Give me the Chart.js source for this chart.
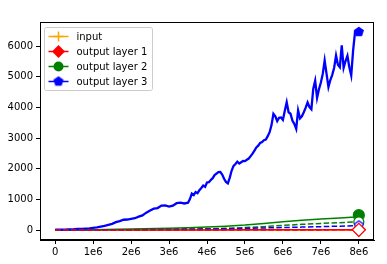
<!DOCTYPE html>
<html>
<head>
<meta charset="utf-8">
<script src="https://cdn.jsdelivr.net/npm/chart.js@4"></script>
<style>
  body { margin: 0; background: #fff; }
  #wrap { width: 387px; height: 264px; }
</style>
</head>
<body>
<div id="wrap"><canvas id="chart" width="387" height="264"></canvas></div>
<script>
// axis ticks
const xTicks = [0, 1e6, 2e6, 3e6, 4e6, 5e6, 6e6, 7e6, 8e6];
const xTickLabels = ['0', '1e6', '2e6', '3e6', '4e6', '5e6', '6e6', '7e6', '8e6'];
const yTicks = [0, 1000, 2000, 3000, 4000, 5000, 6000];
const yTickLabels = ['0', '1000', '2000', '3000', '4000', '5000', '6000'];
const seriesNames = ['input', 'output layer 1', 'output layer 2', 'output layer 3'];

// x positions in millions
const flatT = [0, 1, 2, 3, 4, 5, 6, 7, 8];
const inputY = [0, 0, 0, 0, 0, 0, 0, 0, 0];
const layer1Y = [0, 1, 2, 3, 4, 5, 6, 8, 10];
const layer1DashY = [0, 0, 1, 1, 2, 2, 3, 4, 5];

const growT = [0, 1, 2, 3, 3.5, 4, 4.5, 5, 5.5, 6, 6.5, 7, 7.5, 7.9, 8];
const layer2Y = [0, 12, 30, 55, 75, 100, 125, 160, 210, 270, 320, 360, 395, 425, 485];
const layer2DashY = [0, 5, 12, 25, 32, 40, 55, 80, 110, 150, 185, 215, 240, 262, 265];
const layer3DashY = [0, 3, 8, 18, 24, 30, 42, 55, 68, 80, 95, 110, 125, 140, 150];

const layer3T = [0, 0.1, 0.2, 0.3, 0.4, 0.5, 0.6, 0.7, 0.8, 0.9, 1, 1.1, 1.2, 1.3, 1.4, 1.5, 1.6, 1.7, 1.8, 1.9,
  2, 2.1, 2.2, 2.3, 2.4, 2.5, 2.6, 2.7, 2.8, 2.9, 3, 3.1, 3.2, 3.3, 3.4, 3.5,
  3.55, 3.6, 3.65, 3.7, 3.75, 3.8, 3.85, 3.9, 3.95, 4, 4.05, 4.1, 4.15, 4.2, 4.25, 4.3, 4.35, 4.4, 4.45,
  4.5, 4.55, 4.6, 4.65, 4.7, 4.75, 4.8, 4.85, 4.9, 4.95, 5, 5.05, 5.1, 5.15, 5.2, 5.25, 5.3, 5.35, 5.4, 5.45,
  5.5, 5.55, 5.6, 5.65, 5.7, 5.75, 5.8, 5.85, 5.9, 5.95, 6, 6.05, 6.1, 6.15, 6.2, 6.25, 6.3, 6.35, 6.4, 6.45,
  6.5, 6.55, 6.6, 6.65, 6.7, 6.75, 6.8, 6.85, 6.9, 6.95, 7, 7.05, 7.1, 7.15, 7.2, 7.25, 7.3, 7.35, 7.4, 7.45,
  7.5, 7.55, 7.6, 7.65, 7.7, 7.75, 7.8, 7.85, 7.9, 7.95, 8];
const layer3Y = [10, 12, 15, 17, 22, 25, 32, 38, 47, 55, 72, 85, 112, 138, 168, 200, 255, 292, 335, 342,
  362, 383, 435, 478, 565, 635, 695, 715, 795, 805, 765, 795, 875, 895, 865, 890,
  1010, 1185, 1140, 1240, 1200, 1300, 1370, 1450, 1410, 1550, 1560, 1630, 1690, 1790, 1840, 1890, 1895, 1810, 1670,
  1570, 1520, 1710, 1940, 2090, 2150, 2230, 2170, 2210, 2250, 2245, 2290, 2330, 2410, 2490, 2590, 2690, 2750, 2840, 2870,
  2930, 2950, 3060, 3190, 3420, 3790, 3710, 3550, 3660, 3670, 3590, 3890, 4170, 3840, 3790, 3570, 3460, 3300, 3900, 3640,
  3710, 3840, 3990, 4160, 4010, 3940, 4610, 4870, 4310, 4590, 4810, 5090, 5530, 5090, 4660, 4890, 5060, 5290, 5690, 5390,
  5310, 6020, 5290, 5510, 5680, 5310, 5040, 5860, 6450, 6470, 6460];

function pts(ts, ys) {
  return ts.map((t, i) => ({ x: t * 1e6, y: ys[i] }));
}

// pentagon marker as a small canvas
function pentagon(r, fill, stroke) {
  const c = document.createElement('canvas');
  const s = Math.ceil(2 * r + 4);
  c.width = s; c.height = s;
  const g = c.getContext('2d');
  g.beginPath();
  for (let k = 0; k < 5; k++) {
    const a = -Math.PI / 2 + k * 2 * Math.PI / 5;
    const px = s / 2 + r * Math.cos(a), py = s / 2 + r * Math.sin(a);
    k ? g.lineTo(px, py) : g.moveTo(px, py);
  }
  g.closePath();
  g.fillStyle = fill; g.fill();
  g.lineWidth = 1.2; g.strokeStyle = stroke; g.stroke();
  return c;
}
const pentFull = pentagon(4.6, '#0000ff', '#0000ff');
const pentOpen = pentagon(4.6, '#ffffff', '#0000ff');

const lastOnly = r => ctx => ctx.dataIndex === ctx.dataset.data.length - 1 ? r : 0;
const dash = [5.5, 2.4];

const datasets = [
  { label: seriesNames[0], data: pts(flatT, inputY), borderColor: '#ffa500', pointStyle: 'cross',
    pointRadius: lastOnly(5), pointBorderColor: '#ffa500', pointBorderWidth: 1.5, order: 8, legend: true },
  { label: seriesNames[1], data: pts(flatT, layer1Y), borderColor: '#ff0000', pointStyle: 'rectRot',
    pointRadius: lastOnly(6.5), pointBackgroundColor: '#ff0000', pointBorderColor: '#ff0000', order: 7, legend: true },
  { label: seriesNames[2], data: pts(growT, layer2Y), borderColor: '#008000', pointStyle: 'circle',
    pointRadius: lastOnly(5.5), pointBackgroundColor: '#008000', pointBorderColor: '#008000', order: 6, legend: true },
  { label: seriesNames[3], data: pts(layer3T, layer3Y), borderColor: '#0000ff', pointStyle: pentFull,
    pointRadius: lastOnly(5), order: 5, legend: true },
  { label: '', data: pts(growT, layer2DashY), borderColor: '#008000', borderDash: dash, pointStyle: 'circle',
    pointRadius: lastOnly(5), pointBackgroundColor: '#ffffff', pointBorderColor: '#008000', order: 4 },
  { label: '', data: pts(growT, layer3DashY), borderColor: '#0000ff', borderDash: dash, pointStyle: pentOpen,
    pointRadius: lastOnly(5), order: 3 },
  { label: '', data: pts(flatT, layer1DashY), borderColor: '#ff0000', borderDash: dash, pointStyle: 'rectRot',
    pointRadius: lastOnly(6.5), pointBackgroundColor: '#ffffff', pointBorderColor: '#ff0000', order: 2 }
];
datasets.forEach(d => { d.borderWidth = 1.5; if (d.pointBorderWidth == null) d.pointBorderWidth = 1.2; });
datasets[3].borderWidth = 2.3;

// top/right spines + matplotlib style legend
const framePlugin = {
  id: 'frame',
  afterDraw(chart) {
    const { ctx, chartArea: a } = chart;
    ctx.save();
    ctx.strokeStyle = '#000';
    ctx.lineWidth = 1;
    ctx.strokeRect(Math.round(a.left) + 0.5, Math.round(a.top) + 0.5,
      Math.round(a.right - a.left) - 1, Math.round(a.bottom - a.top) - 1);

    // legend box
    const bx = a.left + 4.5, by = a.top + 5.5, bw = 108, bh = 63;
    ctx.beginPath();
    ctx.roundRect(bx, by, bw, bh, 2);
    ctx.fillStyle = 'rgba(255,255,255,0.8)';
    ctx.fill();
    ctx.strokeStyle = '#cccccc';
    ctx.stroke();

    ctx.font = '10px "DejaVu Sans"';
    ctx.textBaseline = 'middle';
    const rows = chart.data.datasets.filter(d => d.legend);
    rows.forEach((d, i) => {
      const y = by + 9 + i * 15;
      const x0 = bx + 4, x1 = bx + 24, mx = bx + 14;
      ctx.strokeStyle = d.borderColor;
      ctx.lineWidth = 1.5;
      ctx.beginPath(); ctx.moveTo(x0, y); ctx.lineTo(x1, y); ctx.stroke();
      const st = d.pointStyle;
      ctx.fillStyle = d.borderColor;
      if (st === 'cross') {
        ctx.beginPath();
        ctx.moveTo(mx - 5, y); ctx.lineTo(mx + 5, y);
        ctx.moveTo(mx, y - 5); ctx.lineTo(mx, y + 5);
        ctx.stroke();
      } else if (st === 'rectRot') {
        ctx.beginPath();
        ctx.moveTo(mx - 6.5, y); ctx.lineTo(mx, y - 6.5); ctx.lineTo(mx + 6.5, y); ctx.lineTo(mx, y + 6.5);
        ctx.closePath(); ctx.fill();
      } else if (st === 'circle') {
        ctx.beginPath(); ctx.arc(mx, y, 5, 0, 2 * Math.PI); ctx.fill();
      } else if (st instanceof HTMLCanvasElement) {
        ctx.drawImage(st, mx - st.width / 2, y - st.height / 2);
      }
      ctx.fillStyle = '#000';
      ctx.fillText(d.label, bx + 32, y + 0.5);
    });
    ctx.restore();
  }
};

const tickFont = { family: 'DejaVu Sans', size: 10 };

new Chart(document.getElementById('chart'), {
  type: 'line',
  data: { datasets: datasets },
  options: {
    responsive: false,
    animation: false,
    events: [],
    layout: { padding: { left: 0, top: 22, right: 13, bottom: 0 } },
    plugins: { legend: { display: false }, tooltip: { enabled: false } },
    elements: { line: { tension: 0 } },
    scales: {
      x: {
        type: 'linear',
        min: -400000,
        max: 8400000,
        afterBuildTicks: s => { s.ticks = xTicks.map(v => ({ value: v })); },
        afterFit: s => { s.height = 24; },
        ticks: { font: tickFont, color: '#000', padding: 2, maxRotation: 0, autoSkip: false,
          callback: (v, i) => xTickLabels[i] },
        grid: { drawOnChartArea: false, tickLength: 4, tickColor: '#000', color: '#000' },
        border: { color: '#000', width: 1 }
      },
      y: {
        type: 'linear',
        min: -326,
        max: 6783,
        afterBuildTicks: s => { s.ticks = yTicks.map(v => ({ value: v })); },
        afterFit: s => { s.width = 40; },
        ticks: { font: tickFont, color: '#000', padding: 3, autoSkip: false,
          callback: (v, i) => yTickLabels[i] },
        grid: { drawOnChartArea: false, tickLength: 4, tickColor: '#000', color: '#000' },
        border: { color: '#000', width: 1 }
      }
    }
  },
  plugins: [framePlugin]
});
</script>
</body>
</html>
